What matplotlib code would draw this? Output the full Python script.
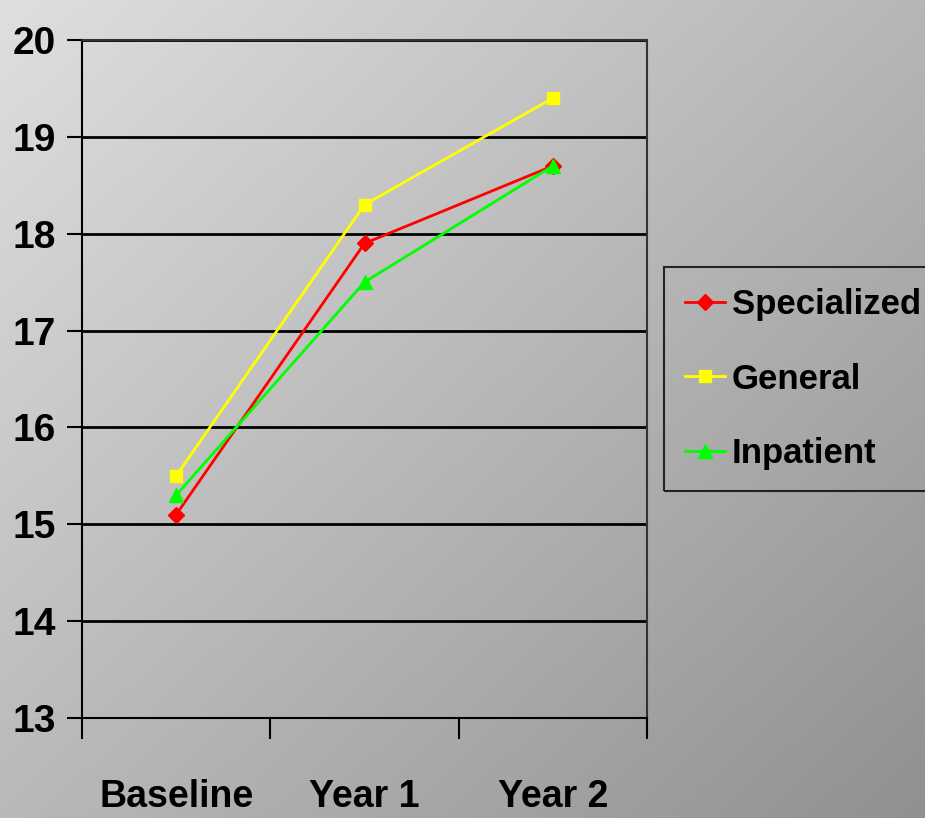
"""
Line chart of scores over time by treatment setting
"""

import matplotlib

matplotlib.use("Agg")
import matplotlib.pyplot as plt
import numpy as np

# Data
categories = ["Baseline", "Year 1", "Year 2"]
specialized = [15.1, 17.9, 18.7]
general = [15.5, 18.3, 19.4]
inpatient = [15.3, 17.5, 18.7]
y_ticks = [13, 14, 15, 16, 17, 18, 19, 20]

plt.rcParams["font.family"] = ["Liberation Sans Narrow", "Liberation Sans", "DejaVu Sans"]
plt.rcParams["font.weight"] = "bold"

fig = plt.figure(figsize=(9.25, 8.18), dpi=100)

# Diagonal grey gradient background (light top-left, darker bottom-right)
bg = fig.add_axes([0, 0, 1, 1], zorder=-10)
gx, gy = np.meshgrid(np.linspace(0, 1, 400), np.linspace(0, 1, 400))
grey = 0.875 - 0.16 * gx - 0.15 * gy
bg.imshow(np.dstack([grey, grey, grey]), aspect="auto", extent=[0, 1, 0, 1], origin="upper")
bg.axis("off")

ax = fig.add_axes([82 / 925, 1 - 718 / 818, (647 - 82) / 925, (718 - 40) / 818])
ax.patch.set_alpha(0)

x = np.arange(len(categories))
ax.plot(x, specialized, color="#ff0000", marker="D", markersize=8, linewidth=2, label="Specialized", zorder=3)
ax.plot(x, general, color="#ffff00", marker="s", markersize=9, linewidth=2, label="General", zorder=3)
ax.plot(x, inpatient, color="#00ff00", marker="^", markersize=10, linewidth=2, label="Inpatient", zorder=3)

ax.set_xlim(-0.5, 2.5)
ax.set_ylim(13, 20)
ax.set_yticks(y_ticks)
ax.set_yticklabels([str(t) for t in y_ticks], fontsize=28)
ax.set_xticks(x)
ax.set_xticklabels(categories, fontsize=27)
ax.set_xticks([-0.5, 0.5, 1.5, 2.5], minor=True)
ax.tick_params(axis="x", which="major", length=0, pad=44)
ax.tick_params(axis="x", which="minor", length=15, width=1.5, direction="out")
ax.tick_params(axis="y", length=11, width=1.5, direction="out", pad=8)

ax.grid(axis="y", color="black", linewidth=2)
for s in ["left", "bottom"]:
    ax.spines[s].set_linewidth(1.5)
    ax.spines[s].set_color("black")
for s in ["top", "right"]:
    ax.spines[s].set_linewidth(1.5)
    ax.spines[s].set_color("#333333")

leg = ax.legend(loc="upper left", bbox_to_anchor=(1.03, 0.665), fontsize=25, frameon=True,
                fancybox=False, edgecolor="black", handlelength=1.15, handletextpad=0.2,
                borderpad=0.6, labelspacing=1.2, borderaxespad=0)
leg.get_frame().set_facecolor("none")
leg.get_frame().set_linewidth(1.5)

plt.savefig("out.png", dpi=100)
